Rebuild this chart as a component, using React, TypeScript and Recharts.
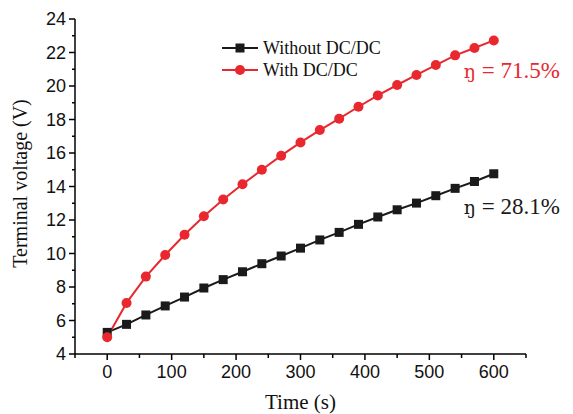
import { LineChart, Line, XAxis, YAxis, ReferenceDot } from 'recharts'

// time in seconds
const times = [0, 30, 60, 90, 120, 150, 180, 210, 240, 270, 300, 330, 360, 390, 420, 450, 480, 510, 540, 570, 600]

// terminal voltage (V)
const withoutDcDc = [5.29, 5.77, 6.33, 6.87, 7.4, 7.94, 8.44, 8.91, 9.39, 9.85, 10.32, 10.81, 11.26, 11.74, 12.18, 12.61, 13.01, 13.45, 13.89, 14.3, 14.76]
const withDcDc = [5.0, 7.05, 8.62, 9.91, 11.12, 12.22, 13.22, 14.13, 15.0, 15.84, 16.63, 17.37, 18.05, 18.76, 19.44, 20.06, 20.66, 21.25, 21.83, 22.27, 22.72]

const xTicks = [-50, 0, 50, 100, 150, 200, 250, 300, 350, 400, 450, 500, 550, 600, 650]
const yTicks = [4, 5, 6, 7, 8, 9, 10, 11, 12, 13, 14, 15, 16, 17, 18, 19, 20, 21, 22, 23, 24]

const efficiencyLabels = [
  { symbol: 'ŋ', value: ' = 71.5%', x: 600, y: 20.5, color: '#e8282e' },
  { symbol: 'ŋ', value: ' = 28.1%', x: 600, y: 12.38, color: '#1a1a1a' },
]

const RED = '#e8282e'
const BLACK = '#1a1a1a'
const SERIF = '"Liberation Serif", "Times New Roman", serif'
const SANS = '"Liberation Sans", Arial, sans-serif'

const data = times.map((t, i) => ({
  t,
  without: withoutDcDc[i],
  with: withDcDc[i],
}))

const series = [
  { key: 'without', name: 'Without DC/DC', color: BLACK, shape: 'square' },
  { key: 'with', name: 'With DC/DC', color: RED, shape: 'circle' },
]

const XTick = (props: any) => {
  const { x, y, payload } = props
  const major = payload.value % 100 === 0
  return (
    <g>
      <line x1={x} x2={x} y1={y} y2={y + (major ? 6 : 4)} stroke="#000" strokeWidth={1.5} />
      {major && (
        <text x={x} y={y + 24} textAnchor="middle" fontFamily={SANS} fontSize={18} fill="#111">
          {payload.value}
        </text>
      )}
    </g>
  )
}

const YTick = (props: any) => {
  const { x, y, payload } = props
  const major = payload.value % 2 === 0
  return (
    <g>
      <line x1={x} x2={x - (major ? 6 : 3)} y1={y} y2={y} stroke="#000" strokeWidth={1.5} />
      {major && (
        <text x={x - 9} y={y + 6} textAnchor="end" fontFamily={SANS} fontSize={18} fill="#111">
          {payload.value}
        </text>
      )}
    </g>
  )
}

const Marker = ({ shape, color }: { shape: string; color: string }) =>
  shape === 'square' ? (
    <rect x={13.5} y={1.5} width={9} height={9} fill={color} />
  ) : (
    <circle cx={18} cy={6} r={5} fill={color} />
  )

const LegendBox = () => (
  <div
    style={{
      position: 'absolute',
      top: 37,
      left: 222,
      fontFamily: SERIF,
      fontSize: 18,
      color: '#111',
      lineHeight: '22px',
    }}
  >
    {series.map((s) => (
      <div key={s.key} style={{ display: 'flex', alignItems: 'center', height: 22 }}>
        <svg width={36} height={12}>
          <line x1={0} x2={36} y1={6} y2={6} stroke={s.color} strokeWidth={2} />
          <Marker shape={s.shape} color={s.color} />
        </svg>
        <span style={{ marginLeft: 5 }}>{s.name}</span>
      </div>
    ))}
  </div>
)

export default function App() {
  return (
    <div style={{ position: 'absolute', left: 0, top: 0, width: 573, height: 414, background: '#fff' }}>
      <LineChart
        width={573}
        height={414}
        data={data}
        margin={{ top: 19, right: 47, bottom: 0, left: 0 }}
      >
        <XAxis
          dataKey="t"
          type="number"
          domain={[-50, 650]}
          ticks={xTicks}
          interval={0}
          height={60}
          tickSize={0}
          tickMargin={0}
          tick={<XTick />}
          stroke="#000"
          strokeWidth={1.5}
          label={{
            content: (p: any) => {
              const { x, y, width } = p.viewBox
              return (
                <text x={x + width / 2} y={y + 55} textAnchor="middle" fontFamily={SERIF} fontSize={21} fill="#111">
                  Time (s)
                </text>
              )
            },
          }}
        />
        <YAxis
          type="number"
          domain={[4, 24]}
          ticks={yTicks}
          interval={0}
          width={75}
          tickSize={0}
          tickMargin={0}
          tick={<YTick />}
          stroke="#000"
          strokeWidth={1.5}
          label={{
            content: (p: any) => {
              const { x, y, height } = p.viewBox
              const cx = x + 20
              const cy = y + height / 2 - 3
              return (
                <text
                  x={cx}
                  y={cy}
                  transform={`rotate(-90 ${cx} ${cy})`}
                  textAnchor="middle"
                  dominantBaseline="central"
                  fontFamily={SERIF}
                  fontSize={20}
                  fill="#111"
                >
                  Terminal voltage (V)
                </text>
              )
            },
          }}
        />
        <Line
          dataKey="without"
          name="Without DC/DC"
          stroke={BLACK}
          strokeWidth={2}
          isAnimationActive={false}
          dot={(p: any) => (
            <rect key={`sq-${p.index}`} x={p.cx - 4.5} y={p.cy - 4.5} width={9} height={9} fill={BLACK} />
          )}
        />
        <Line
          dataKey="with"
          name="With DC/DC"
          stroke={RED}
          strokeWidth={2}
          isAnimationActive={false}
          dot={{ r: 5, fill: RED, stroke: RED, strokeWidth: 0 }}
        />
        {efficiencyLabels.map((a) => (
          <ReferenceDot
            key={a.value}
            x={a.x}
            y={a.y}
            r={0}
            fill="none"
            stroke="none"
            label={{
              content: (p: any) => {
                const { x, y } = p.viewBox
                return (
                  <text x={x - 30} y={y} fontSize={23} fill={a.color}>
                    <tspan fontFamily={'"DejaVu Serif", serif'} fontSize={19}>{a.symbol}</tspan>
                    <tspan fontFamily={SERIF}>{a.value}</tspan>
                  </text>
                )
              },
            }}
          />
        ))}
      </LineChart>
      <LegendBox />
    </div>
  )
}
